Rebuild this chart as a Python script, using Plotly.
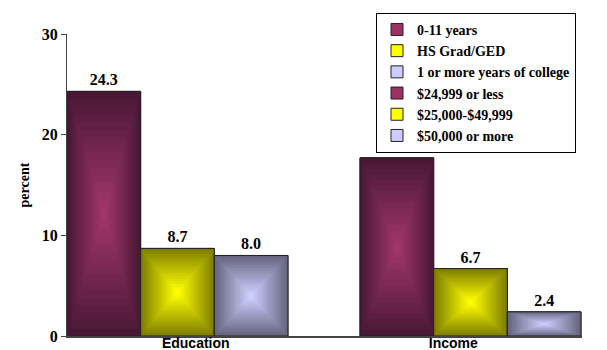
import plotly.graph_objects as go

# ---- data ----
categories = ["Education", "Income"]
series_names = ["0-11 years", "HS Grad/GED", "1 or more years of college",
                "$24,999 or less", "$25,000-$49,999", "$50,000 or more"]
series_category = ["Education", "Education", "Education", "Income", "Income", "Income"]
series_values = [24.3, 8.7, 8.0, 17.7, 6.7, 2.4]
y_ticks = [0, 10, 20, 30]

# ---- styles ----
edge_colors = [(74, 24, 54), (127, 127, 0), (102, 102, 128)] * 2
center_colors = [(160, 54, 106), (255, 255, 0), (206, 206, 255)] * 2
mid_colors = ["#993366", "#FFFF00", "#CCCCFF"] * 2
bar_w = 0.286
offsets = [-0.5, -0.214, 0.072, -0.362, -0.076, 0.21]
N = 16

def rgb(c):
    return "rgb(%d,%d,%d)" % tuple(int(round(v)) for v in c)

def lerp(a, b, f):
    return tuple(a[i] + (b[i] - a[i]) * f for i in range(3))

fig = go.Figure()
for i, (name, cat, v) in enumerate(zip(series_names, series_category, series_values)):
    # legend / label trace
    fig.add_trace(go.Bar(
        x=[cat], y=[v], width=[bar_w], offset=[offsets[i]], name=f"<b>{name}</b>",
        marker=dict(color=mid_colors[i], line=dict(color="#222222", width=1)),
        text=[f"{v:.1f}"], texttemplate="<b>%{text}</b>", textposition="outside",
        textfont=dict(family="Liberation Serif", size=16, color="black"),
        showlegend=True, hoverinfo="skip", cliponaxis=False,
    ))
    # gradient layers
    for k in range(N):
        t = 1 - k / N
        f = k / (N - 1)
        fig.add_trace(go.Bar(
            x=[cat], y=[v * t], base=[v * (1 - t) / 2],
            width=[bar_w * t], offset=[offsets[i] + bar_w * (1 - t) / 2],
            marker=dict(color=rgb(lerp(edge_colors[i], center_colors[i], f)), line=dict(width=0)),
            showlegend=False, hoverinfo="skip",
        ))
    # outline
    fig.add_trace(go.Bar(
        x=[cat], y=[v], width=[bar_w], offset=[offsets[i]],
        marker=dict(color="rgba(0,0,0,0)", line=dict(color="#222222", width=1)),
        showlegend=False, hoverinfo="skip",
    ))

fig.update_layout(
    width=607, height=350,
    margin=dict(l=67, r=25, t=34, b=14),
    barmode="overlay",
    plot_bgcolor="white", paper_bgcolor="white",
    font=dict(family="Liberation Serif", color="black"),
    showlegend=True,
    legend=dict(
        x=0.6, y=1.07, xanchor="left", yanchor="top",
        bgcolor="white", bordercolor="black", borderwidth=1,
        font=dict(family="Liberation Serif", size=14, color="black"),
        itemwidth=30, tracegroupgap=0,
    ),
    xaxis=dict(
        categoryorder="array", categoryarray=categories,
        range=[-0.5, 1.5], automargin=False,
        tickvals=categories, ticktext=[f"<b>{c}</b>" for c in categories],
        showline=True, linecolor="#444444", linewidth=2,
        ticks="", showgrid=False, ticklabelstandoff=-7,
        tickfont=dict(family="Liberation Sans", size=14, color="black"),
    ),
    yaxis=dict(
        range=[0, 30], tickvals=y_ticks, automargin=False,
        ticktext=[f"<b>{t}</b>" for t in y_ticks],
        showline=True, linecolor="#444444", linewidth=1,
        ticks="outside", ticklen=5, tickcolor="#444444",
        showgrid=False, zeroline=False,
        tickfont=dict(family="Liberation Serif", size=16, color="black"),
        title=dict(text="<b>percent</b>", standoff=8,
                   font=dict(family="Liberation Serif", size=14, color="black")),
    ),
)

fig.write_html("out.html")
